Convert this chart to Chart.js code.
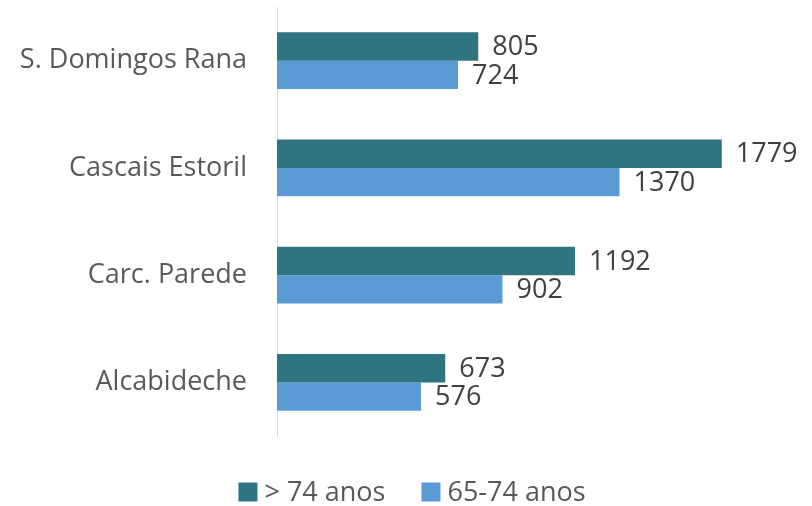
<!DOCTYPE html>
<html>
<head>
<meta charset="utf-8">
<script src="https://cdn.jsdelivr.net/npm/chart.js@4.4.1/dist/chart.umd.min.js"></script>
<style>
  html, body { margin: 0; padding: 0; background: #fff; }
  #wrap { width: 812px; height: 506px; position: relative; }
</style>
</head>
<body>
<div id="wrap"><canvas id="barChartFreguesias"></canvas></div>
<script>
// data
var freguesias = ['S. Domingos Rana', 'Cascais Estoril', 'Carc. Parede', 'Alcabideche'];
var maisDe74 = [805, 1779, 1192, 673];
var de65a74 = [724, 1370, 902, 576];
var seriesNames = ['> 74 anos', '65-74 anos'];

var corEscura = '#2F7480';
var corClara = '#5B9BD5';
var corValor = '#404040';
var corTexto = '#595959';
var fonte = '"Open Sans", sans-serif';

// value labels at the end of each bar
var valueLabels = {
    id: 'valueLabels',
    afterDatasetsDraw: function(chart) {
        var ctx = chart.ctx;
        ctx.save();
        ctx.font = '27px ' + fonte;
        ctx.fillStyle = corValor;
        ctx.textAlign = 'left';
        ctx.textBaseline = 'middle';
        chart.data.datasets.forEach(function(ds, i) {
            chart.getDatasetMeta(i).data.forEach(function(bar, j) {
                ctx.fillText(ds.data[j], bar.x + 14, bar.y + 1);
            });
        });
        ctx.restore();
    }
};

// legend drawn under the plot
var bottomLegend = {
    id: 'bottomLegend',
    afterDraw: function(chart) {
        var ctx = chart.ctx;
        ctx.save();
        ctx.font = '27px ' + fonte;
        ctx.textBaseline = 'middle';
        ctx.textAlign = 'left';
        var box = 19, gap = 7, spacing = 36;
        var widths = chart.data.datasets.map(function(ds) {
            return box + gap + ctx.measureText(ds.label).width;
        });
        var total = widths.reduce(function(a, b) { return a + b; }, 0) + spacing * (widths.length - 1);
        var x = (chart.width - total) / 2 + 6;
        var yMid = 492;
        chart.data.datasets.forEach(function(ds, i) {
            ctx.fillStyle = ds.backgroundColor;
            ctx.fillRect(x, yMid - box / 2, box, box);
            ctx.fillStyle = corTexto;
            ctx.fillText(ds.label, x + box + gap, yMid + 1);
            x += widths[i] + spacing;
        });
        ctx.restore();
    }
};

var chrt = document.getElementById('barChartFreguesias').getContext('2d');
var config = {
    type: 'bar',
    data: {
        labels: freguesias,
        datasets: [{
            label: seriesNames[0],
            data: maisDe74,
            backgroundColor: corEscura,
            categoryPercentage: 0.53,
            barPercentage: 1.0
        }, {
            label: seriesNames[1],
            data: de65a74,
            backgroundColor: corClara,
            categoryPercentage: 0.53,
            barPercentage: 1.0
        }]
    },
    options: {
        indexAxis: 'y',
        responsive: true,
        maintainAspectRatio: false,
        animation: false,
        layout: { padding: { top: 7, right: 35, bottom: 70, left: 0 } },
        plugins: {
            legend: { display: false },
            tooltip: { enabled: false }
        },
        scales: {
            x: {
                display: false,
                min: 0,
                max: 2000
            },
            y: {
                grid: { display: false, drawTicks: false },
                border: { display: true, color: '#D9D9D9', width: 1 },
                ticks: {
                    color: corTexto,
                    font: { size: 27, family: fonte },
                    padding: 30
                },
                afterFit: function(scale) {
                    scale.width = 277;
                    scale.paddingTop = 0;
                    scale.paddingBottom = 0;
                }
            }
        }
    },
    plugins: [valueLabels, bottomLegend]
};

var barChartFreguesias = new Chart(chrt, config);
</script>
</body>
</html>
